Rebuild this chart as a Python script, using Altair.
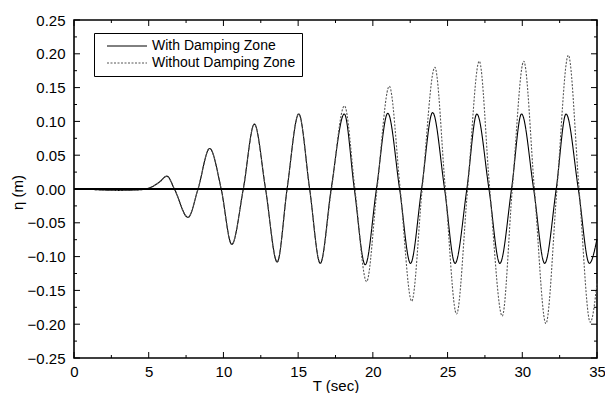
import altair as alt
import pandas as pd

# ---- data (extrema + zero crossings) ----
with_t = [0.0, 1.0, 2.0, 3.0, 4.0, 4.6, 5.2, 5.7, 6.22, 6.72, 7.63, 8.3, 9.08, 9.85,
          10.56, 11.33, 12.07, 12.82, 13.6, 14.26, 15.04, 15.77, 16.48, 17.21, 18.09,
          18.76, 19.49, 20.24, 21.0, 21.79, 22.52, 23.26, 24.0, 24.8, 25.5, 26.29,
          26.96, 27.77, 28.5, 29.28, 29.95, 30.76, 31.5, 32.27, 32.93, 33.75, 34.49, 35.0]
with_eta = [0.0, -0.0005, -0.0015, -0.002, -0.0015, -0.0008, 0.003, 0.01, 0.019, 0.0,
            -0.042, 0.0, 0.060, 0.0, -0.082, 0.0, 0.096, 0.0, -0.108, 0.0, 0.111, 0.0,
            -0.110, 0.0, 0.111, 0.0, -0.112, 0.0, 0.112, 0.0, -0.110, 0.0, 0.113, 0.0,
            -0.110, 0.0, 0.111, 0.0, -0.110, 0.0, 0.111, 0.0, -0.110, 0.0, 0.111, 0.0,
            -0.110, -0.074]

without_t = [0.0, 1.0, 2.0, 3.0, 4.0, 4.6, 5.2, 5.7, 6.22, 6.72, 7.63, 8.3, 9.08, 9.85,
             10.56, 11.33, 12.07, 12.82, 13.6, 14.26, 15.04, 15.77, 16.48, 17.23, 18.1,
             18.8, 19.58, 20.28, 21.1, 21.83, 22.6, 23.3, 24.15, 24.85, 25.6, 26.34,
             27.12, 27.82, 28.66, 29.33, 30.1, 30.81, 31.58, 32.32, 33.08, 33.8, 34.55, 35.0]
without_eta = [0.0, -0.0005, -0.0015, -0.002, -0.0015, -0.0008, 0.003, 0.01, 0.019, 0.0,
               -0.042, 0.0, 0.060, 0.0, -0.082, 0.0, 0.096, 0.0, -0.108, 0.0, 0.111, 0.0,
               -0.110, 0.0, 0.123, 0.0, -0.137, 0.0, 0.152, 0.0, -0.166, 0.0, 0.180, 0.0,
               -0.185, 0.0, 0.189, 0.0, -0.188, 0.0, 0.189, 0.0, -0.199, 0.0, 0.198, 0.0,
               -0.197, -0.140]

series_names = ["With Damping Zone", "Without Damping Zone"]
x_major = [0, 5, 10, 15, 20, 25, 30, 35]
x_minor = [2.5, 7.5, 12.5, 17.5, 22.5, 27.5, 32.5]
y_major = [-0.25, -0.2, -0.15, -0.1, -0.05, 0.0, 0.05, 0.1, 0.15, 0.2, 0.25]
y_minor = [-0.225, -0.175, -0.125, -0.075, -0.025, 0.025, 0.075, 0.125, 0.175, 0.225]

df = pd.concat([
    pd.DataFrame({"t": with_t, "eta": with_eta, "series": series_names[0]}),
    pd.DataFrame({"t": without_t, "eta": without_eta, "series": series_names[1]}),
])
zero_df = pd.DataFrame({"eta": [0.0]})

W, H = 523, 338
F = "Liberation Sans"
xs = alt.Scale(domain=[0, 35], nice=False, zero=False)
ys = alt.Scale(domain=[-0.25, 0.25], nice=False, zero=False)

x_label_axis = alt.Axis(orient="bottom", values=x_major, format="d", ticks=False, domain=False,
                        grid=False, labelFont=F, labelFontSize=15, labelColor="black",
                        labelPadding=6, labelFlush=False, title="T (sec)", titleFont=F,
                        titleFontSize=15, titleFontWeight="normal", titleColor="black",
                        titleY=32, titleBaseline="alphabetic")
y_label_axis = alt.Axis(orient="left", values=y_major, format=".2f", ticks=False, domain=False,
                        grid=False, labelFont=F, labelFontSize=15, labelColor="black",
                        labelPadding=9, labelFlush=False, title="η (m)", titleFont=F,
                        titleFontSize=15, titleFontWeight="normal", titleColor="black",
                        titleAngle=-90, titleX=-57, titleY=172, titleBaseline="middle",
                        titleAlign="center")

lines = alt.Chart(df).mark_line(interpolate="monotone", strokeWidth=1.1).encode(
    x=alt.X("t:Q", scale=xs, axis=x_label_axis),
    y=alt.Y("eta:Q", scale=ys, axis=y_label_axis),
    color=alt.Color("series:N", sort=series_names,
                    scale=alt.Scale(domain=series_names, range=["#000000", "#555555"]),
                    legend=alt.Legend(title=None, orient="none", legendX=20, legendY=13,
                                      strokeColor="black", fillColor="white", padding=6,
                                      symbolType="M-4,0H4", symbolSize=100,
                                      symbolStrokeWidth=1, symbolOffset=20,
                                      labelFont=F, labelFontSize=14, labelColor="black",
                                      rowPadding=3, labelOffset=18)),
    strokeDash=alt.StrokeDash("series:N", sort=series_names,
                              scale=alt.Scale(domain=series_names, range=[[1, 0], [2, 1.5]]),
                              legend=None),
)

zero = alt.Chart(zero_df).mark_rule(color="black", strokeWidth=2).encode(
    y=alt.Y("eta:Q", scale=ys, axis=y_label_axis)
)


def x_ticks(values, length):
    d = pd.DataFrame({"t": values})
    xe = alt.X("t:Q", scale=xs, axis=x_label_axis)
    bottom = alt.Chart(d).mark_rule(color="black", strokeWidth=1).encode(
        x=xe, y=alt.value(H), y2=alt.value(H - length))
    top = alt.Chart(d).mark_rule(color="black", strokeWidth=1).encode(
        x=xe, y=alt.value(0), y2=alt.value(length))
    return [bottom, top]


def y_ticks(values, length):
    d = pd.DataFrame({"eta": values})
    ye = alt.Y("eta:Q", scale=ys, axis=y_label_axis)
    left = alt.Chart(d).mark_rule(color="black", strokeWidth=1).encode(
        y=ye, x=alt.value(0), x2=alt.value(length))
    right = alt.Chart(d).mark_rule(color="black", strokeWidth=1).encode(
        y=ye, x=alt.value(W), x2=alt.value(W - length))
    return [left, right]


tick_layers = x_ticks(x_major, 6) + x_ticks(x_minor, 3) + y_ticks(y_major, 6) + y_ticks(y_minor, 3)

chart = alt.layer(lines, zero, *tick_layers).properties(
    width=W, height=H,
    autosize=alt.AutoSizeParams(type="none"),
    padding={"left": 66, "top": 12, "right": 8, "bottom": 35},
).configure_view(stroke="black", strokeWidth=1.6)

chart.save("out.html", embed_options={"renderer": "svg", "actions": False})
